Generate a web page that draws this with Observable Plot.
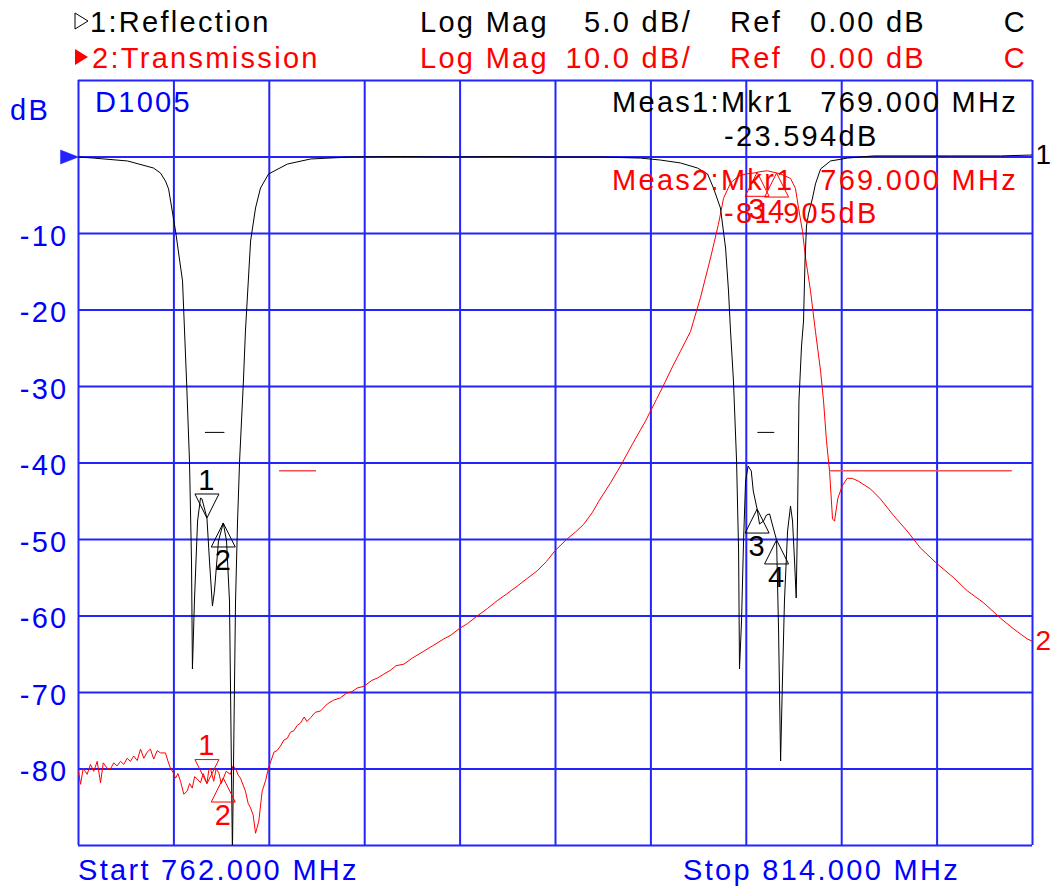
<!DOCTYPE html>
<html><head><meta charset="utf-8">
<script src="https://cdn.jsdelivr.net/npm/d3@7"></script>
<script src="https://cdn.jsdelivr.net/npm/@observablehq/plot@0.6"></script>
<style>
html,body{margin:0;padding:0;background:#fff;}
#chart{width:1053px;height:892px;}
</style></head><body><div id="chart"></div>
<script>
// Trace 1: Reflection (Log Mag 5 dB/div) - frequency MHz, dB
const freqReflection = [762.00,762.82,764.67,766.09,766.47,766.74,766.91,767.02,767.29,767.67,767.78,767.89,768.05,768.16,768.21,768.32,768.49,768.65,768.73,769.00,769.14,769.30,769.41,769.63,769.89,770.07,770.23,770.39,770.56,770.67,770.78,770.99,771.10,771.38,771.65,771.92,772.36,773.39,774.65,776.83,779.55,782.28,785.00,787.73,790.45,792.63,793.72,794.81,795.74,796.29,796.61,796.99,797.27,797.43,797.54,797.70,797.87,797.98,798.03,798.14,798.25,798.36,798.50,798.67,798.78,798.99,799.12,799.34,799.50,799.67,799.87,800.05,800.16,800.27,800.37,800.48,800.65,800.81,800.92,801.03,801.12,801.19,801.27,801.41,801.52,801.60,801.68,801.79,802.01,802.17,802.45,802.99,803.92,805.33,809.53,812.26,814.00];
const dbReflection = [0,-0.07,-0.26,-0.72,-1.05,-1.57,-2.09,-2.88,-4.84,-8.10,-11.37,-14.64,-19.87,-26.41,-33.46,-29.02,-23.79,-22.29,-22.35,-23.594,-26.41,-29.35,-28.37,-25.10,-23.92,-25.10,-29.02,-45.5,-29.02,-23.79,-19.87,-14.64,-11.37,-5.49,-3.33,-2.03,-1.11,-0.46,-0.13,0,0.03,0,0.03,0,0,-0.07,-0.2,-0.39,-0.72,-1.11,-2.03,-3.33,-5.95,-8.76,-11.37,-14.64,-19.87,-25.75,-33.46,-30.33,-25.10,-21.18,-20.20,-20.52,-21.83,-23.01,-23.99,-23.79,-23.40,-23.33,-24.25,-25.03,-30.98,-39.48,-34.25,-29.02,-24.44,-22.81,-23.79,-26.41,-28.82,-23.79,-15.95,-12.35,-10.72,-6.80,-4.51,-3.73,-2.68,-1.76,-0.78,-0.26,-0.07,0.07,0.07,0.07,0.13];

// Trace 2: Transmission (Log Mag 10 dB/div)
const freqTransmission = [762.00,762.11,762.26,762.47,762.65,762.83,763.02,763.20,763.35,763.56,763.74,763.92,764.10,764.29,764.47,764.65,764.83,765.01,765.20,765.38,765.56,765.74,765.92,766.10,766.29,766.47,766.74,766.88,767.01,767.15,767.29,767.42,767.56,767.74,767.92,768.06,768.20,768.33,768.47,768.65,768.80,769.00,769.10,769.19,769.37,769.50,769.65,769.78,769.90,770.05,770.28,770.42,770.56,770.70,770.83,771.10,771.25,771.38,771.52,771.65,771.83,772.01,772.20,772.37,772.50,772.65,772.82,773.01,773.20,773.38,773.55,773.74,773.92,774.10,774.30,774.45,774.65,774.90,775.20,775.56,775.90,776.28,776.60,776.90,777.20,777.55,778.00,778.30,778.64,779.00,779.30,779.73,780.20,780.82,781.30,781.91,782.30,782.78,783.20,783.73,784.30,784.82,785.35,785.91,786.45,787.00,787.50,787.96,788.30,788.64,789.10,789.54,790.00,790.36,791.00,791.54,792.20,792.91,793.50,794.00,794.40,794.81,795.36,795.90,796.45,796.88,797.16,797.54,797.97,798.40,798.79,799.20,799.55,799.90,800.26,800.81,801.08,801.25,801.46,801.63,801.90,802.17,802.45,802.61,802.77,802.94,803.10,803.21,803.39,803.63,803.90,804.17,804.53,805.17,805.71,806.44,807.17,807.89,808.81,809.71,810.44,811.35,812.26,812.98,813.71,814.00];
const dbTransmission = [-80.3,-82.0,-79.9,-80.7,-79.4,-80.3,-79.0,-81.8,-79.2,-79.9,-80.0,-79.2,-79.6,-79.0,-79.4,-78.6,-79.0,-78.3,-78.9,-77.4,-78.6,-77.8,-77.4,-78.7,-77.6,-77.9,-77.9,-79.0,-79.9,-80.4,-81.2,-80.6,-81.6,-83.3,-82.9,-81.9,-82.5,-81.0,-81.3,-81.8,-80.6,-81.9,-80.2,-79.9,-81.6,-80.0,-80.5,-81.9,-81.2,-80.3,-80.7,-79.6,-79.9,-80.8,-81.2,-82.9,-84.5,-85.1,-86.0,-88.4,-86.8,-82.9,-81.5,-79.7,-78.9,-77.8,-77.6,-77.0,-76.2,-76.0,-75.2,-75.0,-74.3,-74.0,-73.2,-73.8,-73.3,-72.6,-72.4,-71.5,-71.0,-70.7,-70.1,-69.9,-69.4,-69.2,-68.4,-68.1,-67.6,-67.1,-66.5,-66.3,-65.5,-64.6,-63.9,-63.0,-62.5,-61.6,-61.0,-60.0,-59.0,-58.0,-57.1,-56.1,-55.1,-54.1,-52.9,-51.5,-50.7,-49.9,-49.0,-48.0,-46.5,-45.0,-42.6,-40.4,-37.5,-34.5,-31.7,-29.3,-27.3,-25.4,-22.8,-18.4,-13.2,-8.8,-5.4,-3.4,-2.5,-2.2,-2.1,-1.9,-1.8,-2.0,-2.2,-2.8,-4.1,-6.7,-9.7,-13.2,-17.5,-22.8,-28.0,-31.9,-37.1,-41.1,-47.3,-47.6,-44.6,-43.0,-42.0,-42.0,-42.4,-43.4,-44.7,-46.9,-48.9,-51.1,-53.2,-55.0,-56.7,-58.3,-60.3,-61.7,-63.0,-63.3];

// Markers
const markerIds = ["1","2","3","4"];
const markerFreq = [769.000, 769.89, 798.99, 800.05];
const markerReflectionDb = [-23.594, -23.92, -23.01, -25.03];
const markerTransmissionDb = [-81.905, -81.18, -2.0, -2.1];
const markerDirection = ["down","up","up","up"];

// Limit lines
const reflLimits = [{f1:768.92, f2:769.98, db:-18.0}, {f1:799.03, f2:799.95, db:-18.0}];
const transLimits = [{f1:772.96, f2:774.97, db:-41.0}, {f1:803.0, f2:812.9, db:-41.0}];

// Axis / grid
const xGridMHz = [762,767.2,772.4,777.6,782.8,788,793.2,798.4,803.6,808.8,814];
const yGridDb = [10,0,-10,-20,-30,-40,-50,-60,-70,-80,-90];
const yTickLabels = [-10,-20,-30,-40,-50,-60,-70,-80];

const BLUE = "#2323ff", TBLUE = "#0000ff", RED = "#ff0000";
const refl = freqReflection.map((f,i)=>({f, db: dbReflection[i]}));
const trans = freqTransmission.map((f,i)=>({f, db: dbTransmission[i]}));
const markers = markerIds.map((id,i)=>({id, f: markerFreq[i], r: markerReflectionDb[i], t: markerTransmissionDb[i], dir: markerDirection[i]}));

const triDown = {draw(c){c.moveTo(0,0);c.lineTo(-12,-24);c.lineTo(12,-24);c.closePath();}};
const triUp = {draw(c){c.moveTo(0,0);c.lineTo(-12,24);c.lineTo(12,24);c.closePath();}};
const arrowRight = {draw(c){c.moveTo(0,0);c.lineTo(-18,-7);c.lineTo(-18,7);c.closePath();}};

// reflection is on 5 dB/div, drawn on the shared 10 dB/div grid
const ry = d => d * 2;

const svg = Plot.plot({
  width: 1053, height: 892,
  marginTop: 80, marginBottom: 47, marginLeft: 78, marginRight: 21,
  x: {domain: [762, 814], axis: null},
  y: {domain: [-90, 10], axis: null},
  style: {fontFamily: "'Liberation Sans', Arial, sans-serif", fontSize: "29px", letterSpacing: "2.3px", background: "#fff"},
  marks: [
    Plot.ruleX(xGridMHz, {stroke: BLUE, strokeWidth: 2}),
    Plot.ruleY(yGridDb, {stroke: BLUE, strokeWidth: 2}),
    Plot.ruleY(transLimits, {x1: "f1", x2: "f2", y: "db", stroke: "#f05050", strokeWidth: 1.5}),
    Plot.ruleY(reflLimits, {x1: "f1", x2: "f2", y: d => ry(d.db), stroke: "#000", strokeWidth: 1}),
    Plot.line(trans, {x: "f", y: "db", stroke: RED, strokeWidth: 1, clip: true}),
    Plot.line(refl, {x: "f", y: d => ry(d.db), stroke: "#000", strokeWidth: 1, clip: true}),
    // reflection markers
    Plot.dot(markers.filter(d=>d.dir==="down"), {x: "f", y: d => ry(d.r), symbol: triDown, fill: "none", stroke: "#000", strokeWidth: 1}),
    Plot.dot(markers.filter(d=>d.dir==="up"), {x: "f", y: d => ry(d.r), symbol: triUp, fill: "none", stroke: "#000", strokeWidth: 1}),
    // transmission markers
    Plot.dot(markers.filter(d=>d.dir==="down"), {x: "f", y: "t", symbol: triDown, fill: "none", stroke: RED, strokeWidth: 1}),
    Plot.dot(markers.filter(d=>d.dir==="up"), {x: "f", y: "t", symbol: triUp, fill: "none", stroke: RED, strokeWidth: 1}),
    // y tick labels
    Plot.text(yTickLabels, {y: d => d, frameAnchor: "left", dx: -10, dy: 3, textAnchor: "end", fill: TBLUE, fontSize: 29, text: d => String(d)}),
    // reference arrow
    Plot.dot([0], {x: () => 762, y: d => d, symbol: arrowRight, fill: BLUE, stroke: BLUE, strokeWidth: 0.5}),
    // trace end labels
    Plot.text([refl[refl.length-1]], {x: "f", y: d => ry(d.db), text: () => "1", dx: 3, textAnchor: "start", fill: "#000", fontSize: 28}),
    Plot.text([trans[trans.length-1]], {x: "f", y: "db", text: () => "2", dx: 3, textAnchor: "start", fill: RED, fontSize: 28})
  ]
});

const sel = d3.select(svg);
document.getElementById("chart").appendChild(svg);
// trailing letter-spacing of the end labels would cross the right edge
sel.selectAll("text").filter(function(){ return this.textContent === "1" || this.textContent === "2"; }).style("letter-spacing", "0px");

// marker labels: above down-triangles, below up-triangles (positions from plot scales)
const xs = svg.scale("x"), ys = svg.scale("y");
const labelG = sel.append("g").attr("font-size", 29).style("letter-spacing", "0px");
markers.forEach(m => {
  const off = m.dir === "down" ? -38 : 37;
  labelG.append("text").attr("x", xs.apply(m.f)).attr("y", ys.apply(ry(m.r)) + off).attr("dy","0.35em")
    .attr("text-anchor","middle").attr("fill","#000").text(m.id);
  labelG.append("text").attr("x", xs.apply(m.f)).attr("y", ys.apply(m.t) + off).attr("dy","0.35em")
    .attr("text-anchor","middle").attr("fill",RED).text(m.id);
});

// header / annotation texts
const annotations = [
  {t:"1:Reflection", x:90, y:32, c:"#000"},
  {t:"Log Mag", x:420, y:32, c:"#000"},
  {t:"5.0 dB/", x:692, y:32, c:"#000", a:"end"},
  {t:"Ref", x:730, y:32, c:"#000"},
  {t:"0.00 dB", x:926, y:32, c:"#000", a:"end"},
  {t:"C", x:1027, y:32, c:"#000", a:"end"},
  {t:"2:Transmission", x:92, y:68, c:RED},
  {t:"Log Mag", x:420, y:68, c:RED},
  {t:"10.0 dB/", x:692, y:68, c:RED, a:"end"},
  {t:"Ref", x:730, y:68, c:RED},
  {t:"0.00 dB", x:926, y:68, c:RED, a:"end"},
  {t:"C", x:1027, y:68, c:RED, a:"end"},
  {t:"D1005", x:95, y:112, c:TBLUE},
  {t:"dB", x:10, y:120, c:TBLUE},
  {t:"Meas1:Mkr1", x:612, y:112, c:"#000"},
  {t:"769.000 MHz", x:1018, y:112, c:"#000", a:"end"},
  {t:"-23.594dB", x:724, y:146, c:"#000"},
  {t:"Meas2:Mkr1", x:612, y:190, c:RED},
  {t:"769.000 MHz", x:1018, y:190, c:RED, a:"end"},
  {t:"-81.905dB", x:724, y:223, c:RED},
  {t:"Start 762.000 MHz", x:78, y:880, c:TBLUE},
  {t:"Stop 814.000 MHz", x:683, y:880, c:TBLUE}
];
const annG = sel.append("g").attr("font-size", 29);
annotations.forEach(a => annG.append("text").attr("x", a.x).attr("y", a.y).attr("fill", a.c)
  .attr("text-anchor", a.a || "start").text(a.t));
// header trace symbols
sel.append("path").attr("d","M75,13 L88,21 L75,29 Z").attr("fill","none").attr("stroke","#000").attr("stroke-width",1);
sel.append("path").attr("d","M75,49 L88,57 L75,65 Z").attr("fill",RED);
</script></body></html>
